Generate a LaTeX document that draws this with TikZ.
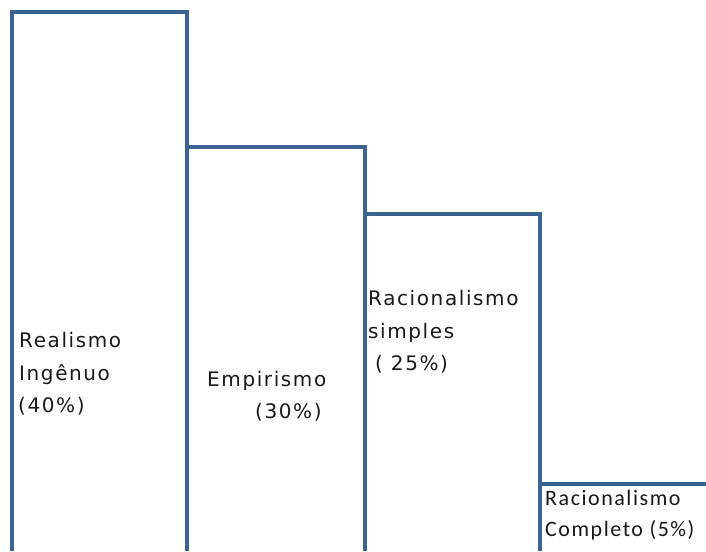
\documentclass[tikz,border=0pt]{standalone}
\usepackage{fontspec}
\newfontfamily\bigf[LetterSpace=8]{DejaVu Sans}
\newfontfamily\smallf[LetterSpace=7]{Carlito}
\definecolor{barblue}{HTML}{3B6394}
\begin{document}
\begin{tikzpicture}[x=1pt,y=-1pt,
  bar/.style={draw=barblue, line width=4.8pt, line join=miter},
  lab/.style={anchor=base west, inner sep=0pt, font=\bigf\fontsize{20}{20}\selectfont, text=black!90},
  slab/.style={anchor=base west, inner sep=0pt, font=\smallf\fontsize{22}{22}\selectfont, text=black!90}]
\useasboundingbox (0,0) rectangle (706,551);
\fill[white] (0,0) rectangle (706,551);
% bars
\draw[bar] (12,551) -- (12,12) -- (187,12) -- (187,551);
\draw[bar] (187,147) -- (365,147) -- (365,551);
\draw[bar] (365,214) -- (540,214) -- (540,551);
\draw[bar] (540,484) -- (706,484);
% labels
\node[lab] (r1) at (19,347) {Realismo};
\node[lab] (r2) at (19,380) {Ingênuo};
\node[lab] (r3) at (18,412) {(40\%)};
\node[lab] (e1) at (207,386) {Empirismo};
\node[lab] (e2) at (255,418) {(30\%)};
\node[lab] (s1) at (368,305) {Racionalismo};
\node[lab] (s2) at (368,338) {simples};
\node[lab] (s3) at (375,370) {( 25\%)};
\node[slab] (c1) at (545,505) {Racionalismo};
\node[slab] (c2) at (545,536) {Completo (5\%)};
\end{tikzpicture}
\end{document}
